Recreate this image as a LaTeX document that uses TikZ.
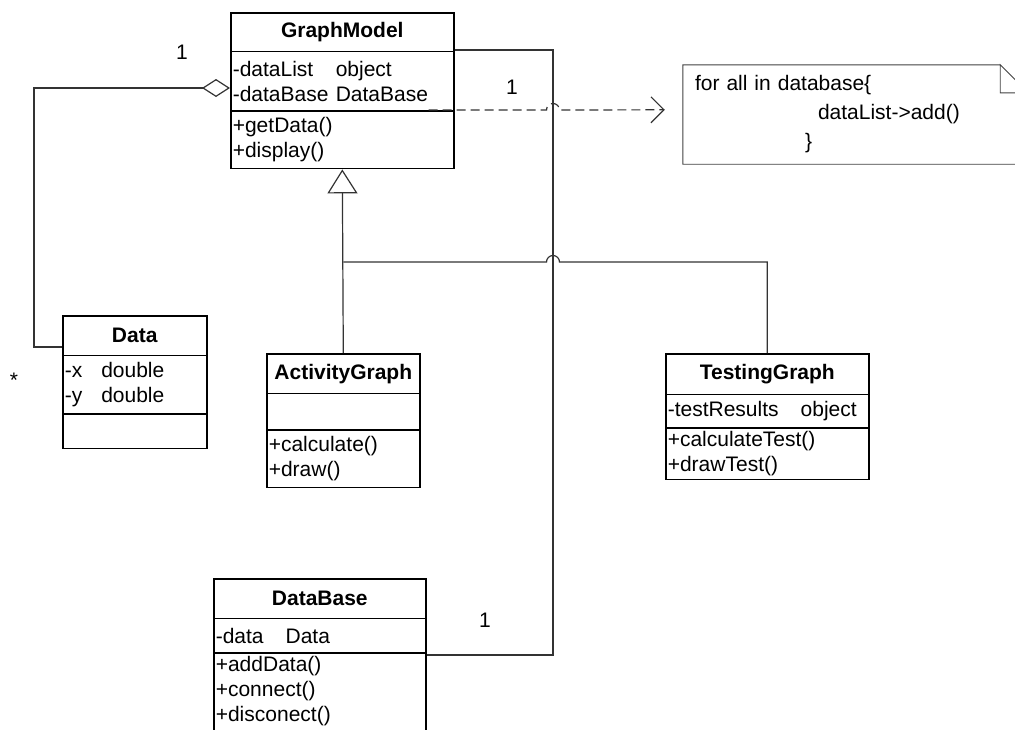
\documentclass[tikz,border=0pt]{standalone}
\usepackage{fontspec}
\setmainfont{Liberation Sans}
\usetikzlibrary{arrows.meta}
\usetikzlibrary{positioning,shapes.multipart}
\newcommand{\umlpart}[4][c]{\parbox[c][#3pt][#1]{#2pt}{\raggedright #4}}
\tikzset{
	%Diagrammes style
	umlclass/.style={
		draw,
		line width=1.6pt,
		rectangle split,
		rectangle split parts=3,
		inner xsep=2pt,
		inner ysep=0pt,
		anchor=north west,
		font=\fontsize{21}{25}\selectfont,
	},
	umlnote/.style={
		draw=none,
		minimum width=345pt,
		minimum height=99pt,
		text width=321pt,
		inner xsep=12pt,
		align=left,
		font=\fontsize{21}{29}\selectfont,
	},
	noteline/.style={
		line width=0.9pt,
		black!75,
	},
	multiplicity/.style={
		font=\fontsize{21}{25}\selectfont,
		inner sep=0pt,
	},
	link/.style={
		line width=1.2pt,
		black!80,
	},
	aggregation/.style={ % requires library arrows.meta
		link,
		{Diamond[open,length=28pt,width=18pt]}-,
	},
	inheritance/.style={
		link,
		-{Triangle[open,length=24pt,width=30pt]},
	},
	dependency/.style={
		link,
		dash pattern=on 9pt off 5pt,
		-{Straight Barb[length=13pt,width=26pt]},
	}
}
\begin{document}
\begin{tikzpicture}[x=1pt, y=1pt]
	\useasboundingbox (0,0) rectangle (1015,-729);
	\clip (0,0) rectangle (1015,-729);

	\node (gm) at (230,-12) [umlclass] {\umlpart{219}{37}{\centering\textbf{GraphModel}}
		\nodepart{two}\umlpart{219}{58}{\makebox[103pt][l]{-dataList}object\\ \makebox[103pt][l]{-dataBase}DataBase}
		\nodepart{three}\umlpart{219}{56}{+getData()\\ +display()}};
	\node (data) at (62,-315) [umlclass] {\umlpart{140}{38}{\centering\textbf{Data}}
		\nodepart{two}\umlpart{140}{57}{-x\hspace{19pt}double\\ -y\hspace{19pt}double}
		\nodepart{three}\umlpart{140}{33}{}};
	\node (ag) at (266,-353) [umlclass] {\umlpart{149}{38}{\centering\textbf{ActivityGraph}}
		\nodepart{two}\umlpart{149}{35}{}
		\nodepart{three}\umlpart{149}{56}{+calculate()\\ +draw()}};
	\node (tg) at (665,-353) [umlclass] {\umlpart{199}{39}{\centering\textbf{TestingGraph}}
		\nodepart{two}\umlpart{199}{32}{-testResults\hspace{22pt}object}
		\nodepart{three}\umlpart{199}{50}{+calculateTest()\\ +drawTest()}};
	\node (db) at (213,-578) [umlclass] {\umlpart{208}{38}{\centering\textbf{DataBase}}
		\nodepart{two}\umlpart{208}{33}{-data\hspace{22pt}Data}
		\nodepart{three}\umlpart[t]{208}{100}{\strut+addData()\\ +connect()\\ +disconect()}};

	\node (note) at (855.5,-114.5) [umlnote] {for all in database\{\\
		\hspace*{123pt}dataList->add()\\
		\hspace*{110pt}\}};
	\draw[noteline] ([xshift=-28pt]note.north east) -- (note.north west) -- (note.south west) -- (note.south east)
		-- ([yshift=-28pt]note.north east) -- ([xshift=-28pt]note.north east)
		-- ([shift={(-28pt,-28pt)}]note.north east) -- ([yshift=-28pt]note.north east);

	\coordinate (elbow) at (34,-88);
	\coordinate (trunk) at (553,-50);
	\coordinate (branch) at ([yshift=91pt]ag.north);
	\coordinate (depstart) at ([shift={(-26pt,-98pt)}]gm.north east);

	\draw[aggregation] ([yshift=-76pt]gm.north west) -- (elbow) |- ([yshift=-32pt]data.north west);
	\draw[inheritance] (ag.north) -- (gm.south);
	\draw[link] (tg.north) |- ([xshift=6.5pt]trunk |- branch) arc[start angle=0, end angle=180, radius=6.5pt] -- (branch);
	\draw[link] ([yshift=-77pt]db.north east) -| (trunk) -- (trunk -| gm.east);
	\draw[dependency] (depstart) -- ([xshift=-6.5pt]trunk |- depstart) arc[start angle=180, end angle=0, radius=6.5pt]
		-- ([shift={(-18pt,-45pt)}]note.north west);

	\node (mulAggr) at (182,-52) [multiplicity] {1};
	\node (mulData) at (14,-380) [multiplicity] {*};
	\node (mulDep) at (512,-87) [multiplicity] {1};
	\node (mulDb) at (485,-620) [multiplicity] {1};
\end{tikzpicture}
\end{document}
